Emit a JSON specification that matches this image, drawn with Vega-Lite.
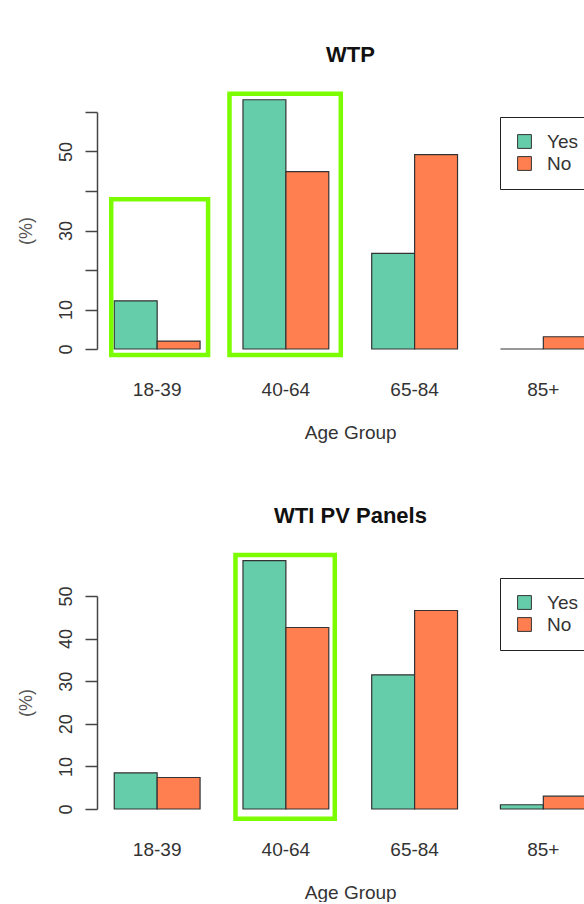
{
  "$schema": "https://vega.github.io/schema/vega-lite/v6.json",
  "background": "white",
  "padding": {"left": 16, "top": 43, "right": 0, "bottom": 0},
  "config": {
    "font": "Liberation Sans",
    "view": {"stroke": null},
    "axisX": {"domain": false, "ticks": false, "labelFontSize": 19, "labelColor": "#333", "labelPadding": 31, "titleFontSize": 19, "titleFontWeight": "normal", "titleColor": "#333", "titlePadding": 24, "labelAngle": 0},
    "axisY": {"grid": false, "domainColor": "#444", "domainWidth": 1.5, "tickColor": "#444", "tickWidth": 1.5, "tickSize": 12, "labelAngle": 270, "labelAlign": "center", "labelBaseline": "bottom", "labelPadding": 10, "labelFontSize": 18, "labelColor": "#333", "titleFontSize": 18, "titleFontWeight": "normal", "titleColor": "#555", "titlePadding": 22, "labelOverlap": false},
    "title": {"fontSize": 22, "fontWeight": "bold", "color": "#111", "dx": 11, "offset": 25},
    "legend": {"orient": "none", "strokeColor": "#222", "fillColor": "white", "padding": 15, "labelFontSize": 19, "labelColor": "#333", "symbolType": "square", "symbolSize": 190, "symbolStrokeColor": "#333", "symbolStrokeWidth": 1, "rowPadding": 2, "labelOffset": 13}
  },
  "datasets": {
    "wtp": [
      {"group": "18-39", "resp": "Yes", "pct": 12.2},
      {"group": "18-39", "resp": "No", "pct": 2.0},
      {"group": "40-64", "resp": "Yes", "pct": 63.1},
      {"group": "40-64", "resp": "No", "pct": 44.9},
      {"group": "65-84", "resp": "Yes", "pct": 24.2},
      {"group": "65-84", "resp": "No", "pct": 49.2},
      {"group": "85+", "resp": "Yes", "pct": 0},
      {"group": "85+", "resp": "No", "pct": 3.1}
    ],
    "wti": [
      {"group": "18-39", "resp": "Yes", "pct": 8.5},
      {"group": "18-39", "resp": "No", "pct": 7.4},
      {"group": "40-64", "resp": "Yes", "pct": 58.3},
      {"group": "40-64", "resp": "No", "pct": 42.6},
      {"group": "65-84", "resp": "Yes", "pct": 31.5},
      {"group": "65-84", "resp": "No", "pct": 46.6},
      {"group": "85+", "resp": "Yes", "pct": 1.0},
      {"group": "85+", "resp": "No", "pct": 3.0}
    ]
  },
  "resolve": {"scale": {"x": "independent", "y": "independent", "color": "independent"}, "legend": {"color": "independent"}},
  "spacing": 62,
  "vconcat": [
    {
      "title": "WTP",
      "width": 485,
      "height": 237,
      "layer": [
        {
          "data": {"name": "wtp"},
          "mark": {"type": "bar", "stroke": "#333", "strokeWidth": 1.2},
          "encoding": {
            "x": {"field": "group", "type": "nominal", "sort": ["18-39", "40-64", "65-84", "85+"], "title": "Age Group", "scale": {"range": [0, 506.5], "paddingInner": 0.3333, "paddingOuter": 0.134}},
            "xOffset": {"field": "resp", "type": "nominal", "sort": ["Yes", "No"], "scale": {"paddingInner": 0, "paddingOuter": 0}},
            "y": {"field": "pct", "type": "quantitative", "title": "(%)", "scale": {"domain": [0, 60], "nice": false}, "axis": {"values": [0, 10, 20, 30, 40, 50, 60], "labelExpr": "datum.value == 20 || datum.value == 40 || datum.value == 60 ? '' : datum.label"}},
            "color": {"field": "resp", "type": "nominal", "sort": ["Yes", "No"], "scale": {"domain": ["Yes", "No"], "range": ["#66CDAA", "#FF7F50"]}, "legend": {"title": null, "legendX": 403, "legendY": 5}}
          }
        },
        {
          "data": {"values": [{"group": "18-39", "lo": -1.5, "hi": 37.9}]},
          "mark": {"type": "rect", "filled": false, "stroke": "#7CFC00", "strokeWidth": 4.5, "xOffset": -3, "x2Offset": 8},
          "encoding": {
            "x": {"field": "group", "type": "nominal", "bandPosition": 0, "title": "Age Group"},
            "x2": {"field": "group", "bandPosition": 1},
            "y": {"field": "lo", "type": "quantitative", "title": "(%)", "axis": {"values": [0, 10, 20, 30, 40, 50, 60], "labelExpr": "datum.value == 20 || datum.value == 40 || datum.value == 60 ? '' : datum.label"}},
            "y2": {"field": "hi"}
          }
        },
        {
          "data": {"values": [{"group": "40-64", "lo": -1.5, "hi": 64.6}]},
          "mark": {"type": "rect", "filled": false, "stroke": "#7CFC00", "strokeWidth": 4.5, "xOffset": -13.5, "x2Offset": 12},
          "encoding": {
            "x": {"field": "group", "type": "nominal", "bandPosition": 0, "title": "Age Group"},
            "x2": {"field": "group", "bandPosition": 1},
            "y": {"field": "lo", "type": "quantitative", "title": "(%)", "axis": {"values": [0, 10, 20, 30, 40, 50, 60], "labelExpr": "datum.value == 20 || datum.value == 40 || datum.value == 60 ? '' : datum.label"}},
            "y2": {"field": "hi"}
          }
        }
      ]
    },
    {
      "title": "WTI PV Panels",
      "width": 485,
      "height": 213,
      "layer": [
        {
          "data": {"name": "wti"},
          "mark": {"type": "bar", "stroke": "#333", "strokeWidth": 1.2},
          "encoding": {
            "x": {"field": "group", "type": "nominal", "sort": ["18-39", "40-64", "65-84", "85+"], "title": "Age Group", "scale": {"range": [0, 506.5], "paddingInner": 0.3333, "paddingOuter": 0.134}},
            "xOffset": {"field": "resp", "type": "nominal", "sort": ["Yes", "No"], "scale": {"paddingInner": 0, "paddingOuter": 0}},
            "y": {"field": "pct", "type": "quantitative", "title": "(%)", "scale": {"domain": [0, 50], "nice": false}, "axis": {"values": [0, 10, 20, 30, 40, 50]}},
            "color": {"field": "resp", "type": "nominal", "sort": ["Yes", "No"], "scale": {"domain": ["Yes", "No"], "range": ["#66CDAA", "#FF7F50"]}, "legend": {"title": null, "legendX": 403, "legendY": -18}}
          }
        },
        {
          "data": {"values": [{"group": "40-64", "lo": -2.3, "hi": 59.6}]},
          "mark": {"type": "rect", "filled": false, "stroke": "#7CFC00", "strokeWidth": 4.5, "xOffset": -7.5, "x2Offset": 6},
          "encoding": {
            "x": {"field": "group", "type": "nominal", "bandPosition": 0, "title": "Age Group"},
            "x2": {"field": "group", "bandPosition": 1},
            "y": {"field": "lo", "type": "quantitative", "title": "(%)", "axis": {"values": [0, 10, 20, 30, 40, 50]}},
            "y2": {"field": "hi"}
          }
        }
      ]
    }
  ]
}
